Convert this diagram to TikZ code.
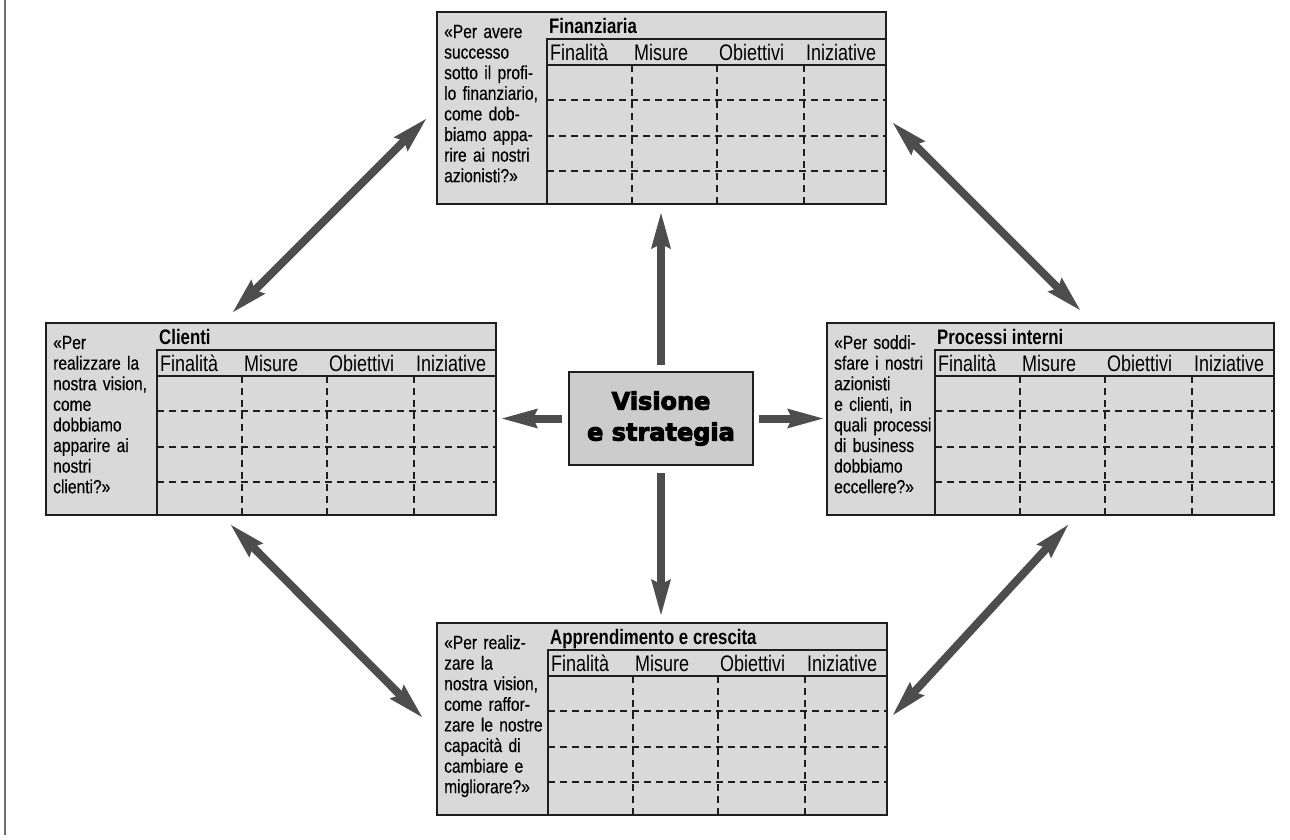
\documentclass[tikz,border=0pt]{standalone}
\usepackage{fontspec}
\setmainfont{Liberation Sans}
\newfontfamily\cond[FakeStretch=0.8]{Liberation Sans}
\newfontfamily\qfont[FakeStretch=0.82, FakeBold=0.3]{Liberation Sans}
\newfontfamily\heavy[UprightFont={* Bold}, FakeBold=4]{DejaVu Sans}
\usetikzlibrary{arrows.meta,calc}
\definecolor{lineclr}{HTML}{1E1E1E}
\definecolor{panelfill}{HTML}{D9D9D9}
\definecolor{centerfill}{HTML}{CCCCCC}
\definecolor{arrclr}{HTML}{4D4D4D}
\definecolor{edgeclr}{HTML}{6E6E6E}
\tikzset{
  panelbox/.style={draw=lineclr, fill=panelfill, line width=1.5pt, inner sep=0pt, outer sep=0pt},
  qtext/.style={inner sep=0pt, text width=125pt, align=left, font=\qfont\fontsize{19}{20.6}\selectfont},
  ttl/.style={inner sep=0pt, font=\cond\bfseries\fontsize{21}{24}\selectfont},
  hdr/.style={inner sep=0pt, font=\cond\fontsize{22.5}{24}\selectfont},
  solidln/.style={draw=lineclr, line width=1.6pt},
  dashln/.style={draw=lineclr, line width=1.3pt, dash pattern=on 7pt off 5pt},
  visbox/.style={draw=lineclr, fill=centerfill, line width=1.5pt, minimum width=184pt, minimum height=93pt, align=center, inner sep=0pt, outer sep=0pt, font=\heavy\fontsize{24}{31}\selectfont},
  arr/.style={draw=arrclr, line width=8pt, -{Stealth[length=36pt,width=20pt,inset=5pt,line width=0pt]}},
  darr/.style={draw=arrclr, line width=8pt, {Stealth[length=36pt,width=20pt,inset=5pt,line width=0pt]}-{Stealth[length=36pt,width=20pt,inset=5pt,line width=0pt]}},
  edgeln/.style={draw=edgeclr, line width=2pt}
}
% #1 name, #2 x, #3 y, #4 text column width, #5 title, #6 question
\newcommand\mypanel[6]{%
\begin{scope}[shift={(#2,#3)}]
  \pgfmathsetmacro\pw{#4+339}
  \node[panelbox, anchor=north west, minimum width=\pw pt, minimum height=192pt] (#1) at (0,0) {};
  \node[qtext, anchor=base west] (#1-q) at (7,26) {#6};
  \node[ttl, anchor=base west] (#1-t) at (#4+2,21) {#5};
  \draw[solidln] (#4,192) -- (#4,27) -- (\pw,27);
  \draw[solidln] (#4,53) -- (\pw,53);
  \foreach \yy in {88,124,159} \draw[dashln] (#4,\yy) -- (\pw,\yy);
  \foreach \cc in {85,170,257} \draw[dashln] (#4+\cc,53) -- (#4+\cc,192);
  \node[hdr, anchor=base west] (#1-h1) at (#4+3,48) {Finalità};
  \node[hdr, anchor=base west] (#1-h2) at (#4+87,48) {Misure};
  \node[hdr, anchor=base west] (#1-h3) at (#4+172,48) {Obiettivi};
  \node[hdr, anchor=base west] (#1-h4) at (#4+259,48) {Iniziative};
\end{scope}}
\begin{document}
\begin{tikzpicture}[x=1pt, y=-1pt]
\useasboundingbox (0,0) rectangle (1290,839);
\draw[edgeln] (5,0) -- (5,835);

\mypanel{fin}{437}{12}{110}{Finanziaria}{«Per avere\\successo\\sotto il profi-\\lo finanziario,\\come dob-\\biamo appa-\\rire ai nostri\\azionisti?»}
\mypanel{cli}{46}{323}{111}{Clienti}{«Per\\realizzare la\\nostra vision,\\come\\dobbiamo\\apparire ai\\nostri\\clienti?»}
\mypanel{pro}{827}{323}{108}{Processi interni}{«Per soddi-\\sfare i nostri\\azionisti\\e clienti, in\\quali processi\\di business\\dobbiamo\\eccellere?»}
\mypanel{app}{437}{623}{111}{Apprendimento e crescita}{«Per realiz-\\zare la\\nostra vision,\\come raffor-\\zare le nostre\\capacità di\\cambiare e\\migliorare?»}

\node[visbox] (vis) at (661,418.5) {Visione\\e strategia};

\draw[arr, shorten <=7pt, shorten >=9pt] (vis.north) -- (vis.north |- fin.south);
\draw[arr, shorten <=8pt, shorten >=8pt] (vis.south) -- (vis.south |- app.north);
\draw[arr, shorten <=7pt, shorten >=6pt] (vis.west) -- (vis.west -| cli.east);
\draw[arr, shorten <=6pt, shorten >=4pt] (vis.east) -- (vis.east -| pro.west);

\coordinate (tl1) at (426,119);
\coordinate (tl2) at (233,312);
\coordinate (tr1) at (893,123);
\coordinate (tr2) at (1080,310);
\coordinate (bl1) at (231,525);
\coordinate (bl2) at (422,717);
\coordinate (br1) at (1068,525);
\coordinate (br2) at (893,715);
\draw[darr] (tl1) -- (tl2);
\draw[darr] (tr1) -- (tr2);
\draw[darr] (bl1) -- (bl2);
\draw[darr] (br1) -- (br2);
\end{tikzpicture}
\end{document}
